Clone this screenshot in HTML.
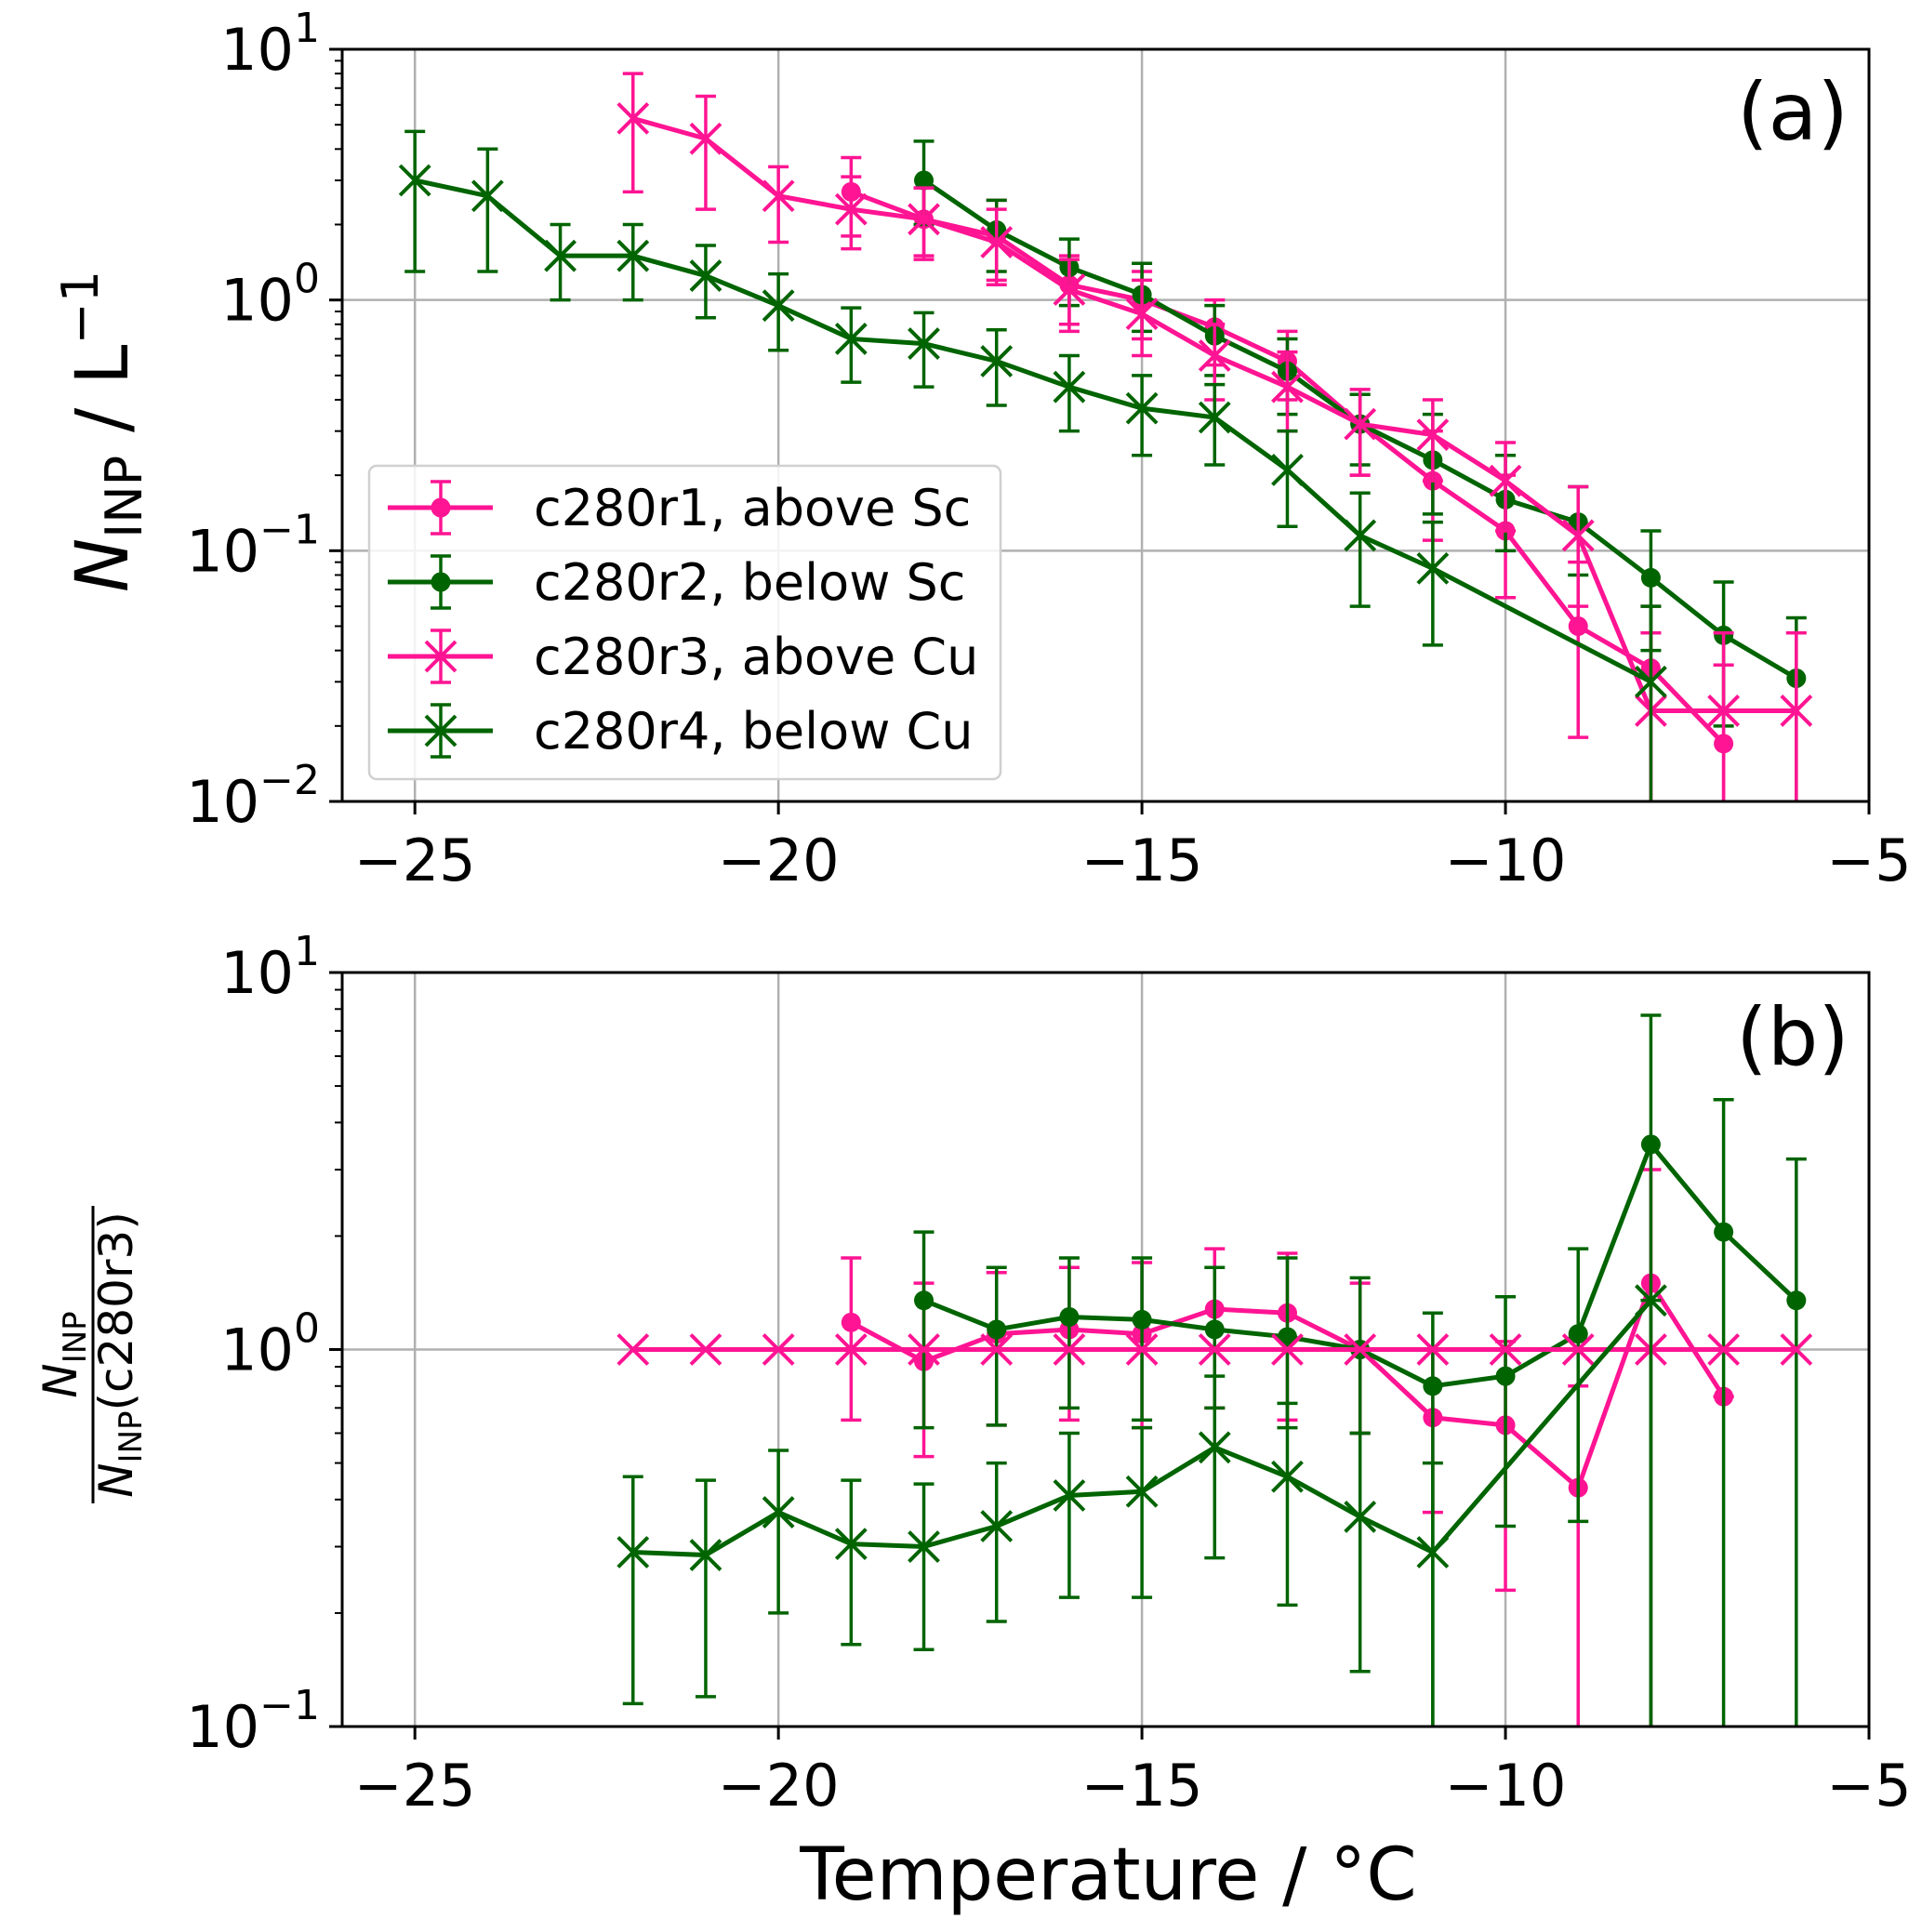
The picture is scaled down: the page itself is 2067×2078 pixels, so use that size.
<!DOCTYPE html>
<html><head><meta charset="utf-8"><style>
body{margin:0;background:#fff}
svg text{font-family:"DejaVu Sans","Liberation Sans",sans-serif}
</style></head><body>
<svg id="chart" width="2067" height="2073" xmlns="http://www.w3.org/2000/svg"></svg>
<script>
// ---- data ----
const tempTicks = [-25,-20,-15,-10,-5];
const tickLabels = ["\u221225","\u221220","\u221215","\u221210","\u22125"];
const r1T = [-19,-18,-17,-16,-15,-14,-13,-12,-11,-10,-9,-8,-7];
const r1V = [2.7,2.1,1.8,1.15,1.0,0.78,0.57,0.32,0.19,0.12,0.05,0.034,0.017];
const r1Lo = [1.8,1.5,1.2,0.8,0.7,0.55,0.4,0.2,0.11,0.065,0.018,0.005,0.005];
const r1Hi = [3.7,2.8,2.5,1.5,1.3,1.0,0.75,0.42,0.3,0.2,0.09,0.06,0.035];
const r2T = [-18,-17,-16,-15,-14,-13,-12,-11,-10,-9,-8,-7,-6];
const r2V = [3.0,1.9,1.35,1.05,0.72,0.52,0.32,0.23,0.16,0.13,0.078,0.046,0.031];
const r2Lo = [2.0,1.3,0.95,0.75,0.5,0.35,0.22,0.14,0.1,0.08,0.04,0.02,0.005];
const r2Hi = [4.3,2.5,1.75,1.4,0.95,0.7,0.42,0.35,0.24,0.18,0.12,0.075,0.054];
const r3T = [-22,-21,-20,-19,-18,-17,-16,-15,-14,-13,-12,-11,-10,-9,-8,-7,-6];
const r3V = [5.3,4.4,2.6,2.3,2.1,1.7,1.1,0.88,0.6,0.45,0.32,0.29,0.19,0.115,0.023,0.023,0.023];
const r3Lo = [2.7,2.3,1.7,1.6,1.45,1.15,0.75,0.6,0.4,0.3,0.2,0.19,0.12,0.06,0.005,0.005,0.005];
const r3Hi = [8,6.5,3.4,3.1,2.8,2.3,1.45,1.2,0.8,0.62,0.44,0.4,0.27,0.18,0.047,0.047,0.047];
const r4T = [-25,-24,-23,-22,-21,-20,-19,-18,-17,-16,-15,-14,-13,-12,-11,-8];
const r4V = [3.0,2.6,1.5,1.5,1.25,0.95,0.7,0.67,0.57,0.45,0.37,0.34,0.21,0.115,0.085,0.03];
const r4Lo = [1.3,1.3,1.0,1.0,0.85,0.63,0.47,0.45,0.38,0.3,0.24,0.22,0.125,0.06,0.042,0.005];
const r4Hi = [4.7,4.0,2.0,2.0,1.65,1.27,0.93,0.89,0.76,0.6,0.5,0.46,0.3,0.17,0.13,0.06];
// panel b ratios
const b1V = [1.18,0.93,1.1,1.13,1.1,1.28,1.25,1.0,0.66,0.63,0.43,1.5,0.75];
const b1Lo = [0.65,0.52,0.63,0.65,0.62,0.7,0.65,0.6,0.37,0.23,0.05,0.05,0.75];
const b1Hi = [1.75,1.5,1.6,1.65,1.7,1.85,1.8,1.5,1.0,1.05,0.8,3.0,0.75];
const b2V = [1.35,1.13,1.22,1.2,1.13,1.08,1.0,0.8,0.85,1.1,3.5,2.05,1.35];
const b2Lo = [0.62,0.63,0.7,0.65,0.7,0.62,0.6,0.05,0.34,0.35,0.05,0.05,0.05];
const b2Hi = [2.05,1.65,1.75,1.75,1.65,1.75,1.55,1.25,1.38,1.85,7.7,4.6,3.2];
const b3V = [1,1,1,1,1,1,1,1,1,1,1,1,1,1,1,1,1];
const r4bT = [-22,-21,-20,-19,-18,-17,-16,-15,-14,-13,-12,-11,-8];
const b4V = [0.29,0.285,0.37,0.305,0.3,0.34,0.41,0.42,0.55,0.46,0.36,0.29,1.35];
const b4Lo = [0.115,0.12,0.2,0.165,0.16,0.19,0.22,0.22,0.28,0.21,0.14,0.05,0.05];
const b4Hi = [0.46,0.45,0.54,0.45,0.44,0.5,0.6,0.62,0.85,0.72,0.6,0.5,1.35];

const PINK="#ff1493", GREEN="#006400";
const svg=document.getElementById('chart');
const NS="http://www.w3.org/2000/svg";
function mk(tag,attrs,parent,name){const e=document.createElementNS(NS,tag);for(const k in attrs)e.setAttribute(k,attrs[k]);


(parent||svg).appendChild(e);return e;}
const X0=368,X1=2010,XMIN=-26,XMAX=-5;
const xs=t=>X0+(t-XMIN)/(XMAX-XMIN)*(X1-X0);

function panel(top,bot,dmin,dmax,label){
  const g=mk('g',{},svg,'panel-'+label);
  const ys=v=>{const lv=Math.log10(Math.max(v,Math.pow(10,dmin-1)));return bot-(lv-dmin)/(dmax-dmin)*(bot-top);};
  const clip=mk('clipPath',{id:'c'+label},g,'clip');
  mk('rect',{x:X0,y:top,width:X1-X0,height:bot-top},clip,'clip-rect');
  tempTicks.forEach((t,i)=>{mk('line',{x1:xs(t),x2:xs(t),y1:top,y2:bot,stroke:'#b0b0b0','stroke-width':2.5},g,'x-grid');
    mk('line',{x1:xs(t),x2:xs(t),y1:bot,y2:bot+14,stroke:'#000','stroke-width':3},g,'x-tick');
    const tx=mk('text',{x:xs(t),y:bot+85,'font-size':62,'text-anchor':'middle'},g,'x-tick-label');tx.textContent=tickLabels[i];});
  for(let d=dmin;d<=dmax;d++){
    const y=ys(Math.pow(10,d));
    if(d>dmin&&d<dmax)mk('line',{x1:X0,x2:X1,y1:y,y2:y,stroke:'#b0b0b0','stroke-width':2.5},g,'y-grid');
    mk('line',{x1:X0-14,x2:X0,y1:y,y2:y,stroke:'#000','stroke-width':3},g,'y-tick');
    const tx=mk('text',{x:X0-24,y:y+22,'font-size':62,'text-anchor':'end'},g,'y-tick-label');
    tx.textContent='10';const s=mk('tspan',{dy:-30,'font-size':44},tx,'exponent');s.textContent=d<0?'\u2212'+(-d):String(d);
    if(d<dmax)for(let m=2;m<=9;m++){const yy=ys(m*Math.pow(10,d));mk('line',{x1:X0-8,x2:X0,y1:yy,y2:yy,stroke:'#000','stroke-width':2},g,'y-minor-tick');}
  }
  const dg=mk('g',{'clip-path':'url(#c'+label+')'},g,'plot-area');
  function series(T,V,Lo,Hi,col,mark,name){
    const sg=mk('g',{},dg,name);
    if(Lo)T.forEach((t,i)=>{const x=xs(t),a=ys(Lo[i]),b=ys(Hi[i]);
      mk('line',{x1:x,x2:x,y1:a,y2:b,stroke:col,'stroke-width':3.5},sg,'error-bar');
      mk('line',{x1:x-11,x2:x+11,y1:a,y2:a,stroke:col,'stroke-width':3.5},sg,'error-cap');
      mk('line',{x1:x-11,x2:x+11,y1:b,y2:b,stroke:col,'stroke-width':3.5},sg,'error-cap');});
    mk('polyline',{points:T.map((t,i)=>xs(t)+','+ys(V[i])).join(' '),fill:'none',stroke:col,'stroke-width':5},sg,'line');
    T.forEach((t,i)=>{const x=xs(t),y=ys(V[i]);
      if(mark==='o')mk('circle',{cx:x,cy:y,r:10.5,fill:col},sg,'marker');
      else{const r=16;mk('path',{d:`M${x-r},${y-r}L${x+r},${y+r}M${x-r},${y+r}L${x+r},${y-r}`,stroke:col,'stroke-width':4},sg,'marker');}});
  }
  return {g,series,ys};
}
const A=panel(53,862,-2,1,'a');
A.series(r1T,r1V,r1Lo,r1Hi,PINK,'o','series-c280r1');
A.series(r2T,r2V,r2Lo,r2Hi,GREEN,'o','series-c280r2');
A.series(r3T,r3V,r3Lo,r3Hi,PINK,'x','series-c280r3');
A.series(r4T,r4V,r4Lo,r4Hi,GREEN,'x','series-c280r4');
mk('rect',{x:X0,y:53,width:X1-X0,height:862-53,fill:'none',stroke:'#000','stroke-width':3},svg,'axes-frame-a');
const B=panel(1046,1857,-1,1,'b');
B.series(r1T,b1V,b1Lo,b1Hi,PINK,'o','ratio-c280r1');
B.series(r2T,b2V,b2Lo,b2Hi,GREEN,'o','ratio-c280r2');
B.series(r3T,b3V,null,null,PINK,'x','ratio-c280r3');
B.series(r4bT,b4V,b4Lo,b4Hi,GREEN,'x','ratio-c280r4');
mk('rect',{x:X0,y:1046,width:X1-X0,height:1857-1046,fill:'none',stroke:'#000','stroke-width':3},svg,'axes-frame-b');

const lg=mk('g',{},svg,'legend');
mk('rect',{x:397,y:501,width:679,height:337,rx:8,fill:'#fff','fill-opacity':0.85,stroke:'#d0d0d0','stroke-width':2.5},lg,'legend-box');
const legNames=["c280r1, above Sc","c280r2, below Sc","c280r3, above Cu","c280r4, below Cu"];
const legCols=[PINK,GREEN,PINK,GREEN], legMk=['o','o','x','x'];
legNames.forEach((n,i)=>{const y=546+i*80,x=474;
  const e=mk('g',{},lg,'legend-entry');
  mk('line',{x1:417,x2:530,y1:y,y2:y,stroke:legCols[i],'stroke-width':5},e,'legend-line');
  mk('line',{x1:x,x2:x,y1:y-28,y2:y+28,stroke:legCols[i],'stroke-width':3.5},e,'legend-errbar');
  mk('line',{x1:x-11,x2:x+11,y1:y-28,y2:y-28,stroke:legCols[i],'stroke-width':3.5},e,'legend-cap');
  mk('line',{x1:x-11,x2:x+11,y1:y+28,y2:y+28,stroke:legCols[i],'stroke-width':3.5},e,'legend-cap');
  if(legMk[i]==='o')mk('circle',{cx:x,cy:y,r:10.5,fill:legCols[i]},e,'legend-marker');
  else mk('path',{d:`M${x-16},${y-16}L${x+16},${y+16}M${x-16},${y+16}L${x+16},${y-16}`,stroke:legCols[i],'stroke-width':4},e,'legend-marker');
  const t=mk('text',{x:574,y:y+19,'font-size':54},e,'legend-label');t.textContent=n;});

let t=mk('text',{x:1928,y:150,'font-size':86,'text-anchor':'middle'},svg,'panel-label-a');t.textContent='(a)';
t=mk('text',{x:1928,y:1145,'font-size':86,'text-anchor':'middle'},svg,'panel-label-b');t.textContent='(b)';
t=mk('text',{x:1192,y:2043,'font-size':78,'text-anchor':'middle'},svg,'x-axis-title');t.textContent='Temperature / \u00b0C';
const ya=mk('text',{transform:'translate(137,464) rotate(-90)','font-size':78,'text-anchor':'middle'},svg,'y-axis-title-a');
let s=mk('tspan',{'font-style':'italic'},ya,'n');s.textContent='N';
s=mk('tspan',{'font-size':54,dy:15},ya,'sub');s.textContent='INP';
s=mk('tspan',{dy:-15},ya,'unit');s.textContent=' / L';
s=mk('tspan',{'font-size':54,dy:-32},ya,'sup');s.textContent='\u22121';
const yb=mk('g',{transform:'translate(100,1457) rotate(-90)'},svg,'y-axis-title-b');
t=mk('text',{x:0,y:-18,'font-size':50,'text-anchor':'middle'},yb,'numerator');
s=mk('tspan',{'font-style':'italic'},t,'n');s.textContent='N';s=mk('tspan',{'font-size':34,dy:10},t,'sub');s.textContent='INP';
mk('line',{x1:-160,x2:160,y1:0,y2:0,stroke:'#000','stroke-width':3},yb,'fraction-bar');
t=mk('text',{x:0,y:42,'font-size':50,'text-anchor':'middle'},yb,'denominator');
s=mk('tspan',{'font-style':'italic'},t,'n');s.textContent='N';s=mk('tspan',{'font-size':34,dy:10},t,'sub');s.textContent='INP';
s=mk('tspan',{dy:-10},t,'rest');s.textContent='(c280r3)';
</script>
</body></html>
